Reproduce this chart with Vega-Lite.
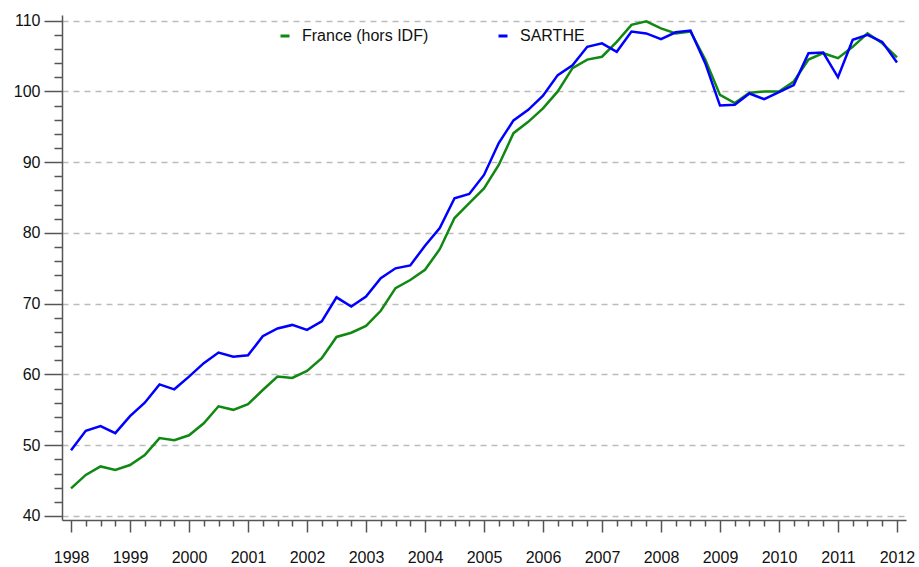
{
  "$schema": "https://vega.github.io/schema/vega-lite/v6.json",
  "width": 844,
  "height": 505,
  "autosize": "none",
  "padding": {"left": 62, "top": 15, "right": 13, "bottom": 47},
  "background": "white",
  "config": {"view": {"stroke": null}, "font": "Liberation Sans"},
  "data": {"values": [
    {"t":1998,"serie":"France (hors IDF)","v":43.9},{"t":1998.25,"serie":"France (hors IDF)","v":45.8},{"t":1998.5,"serie":"France (hors IDF)","v":47.0},{"t":1998.75,"serie":"France (hors IDF)","v":46.5},
    {"t":1999,"serie":"France (hors IDF)","v":47.2},{"t":1999.25,"serie":"France (hors IDF)","v":48.6},{"t":1999.5,"serie":"France (hors IDF)","v":51.0},{"t":1999.75,"serie":"France (hors IDF)","v":50.7},
    {"t":2000,"serie":"France (hors IDF)","v":51.4},{"t":2000.25,"serie":"France (hors IDF)","v":53.1},{"t":2000.5,"serie":"France (hors IDF)","v":55.5},{"t":2000.75,"serie":"France (hors IDF)","v":55.0},
    {"t":2001,"serie":"France (hors IDF)","v":55.8},{"t":2001.25,"serie":"France (hors IDF)","v":57.8},{"t":2001.5,"serie":"France (hors IDF)","v":59.7},{"t":2001.75,"serie":"France (hors IDF)","v":59.5},
    {"t":2002,"serie":"France (hors IDF)","v":60.5},{"t":2002.25,"serie":"France (hors IDF)","v":62.3},{"t":2002.5,"serie":"France (hors IDF)","v":65.3},{"t":2002.75,"serie":"France (hors IDF)","v":65.9},
    {"t":2003,"serie":"France (hors IDF)","v":66.85},{"t":2003.25,"serie":"France (hors IDF)","v":69.0},{"t":2003.5,"serie":"France (hors IDF)","v":72.2},{"t":2003.75,"serie":"France (hors IDF)","v":73.35},
    {"t":2004,"serie":"France (hors IDF)","v":74.8},{"t":2004.25,"serie":"France (hors IDF)","v":77.7},{"t":2004.5,"serie":"France (hors IDF)","v":82.1},{"t":2004.75,"serie":"France (hors IDF)","v":84.2},
    {"t":2005,"serie":"France (hors IDF)","v":86.3},{"t":2005.25,"serie":"France (hors IDF)","v":89.6},{"t":2005.5,"serie":"France (hors IDF)","v":94.1},{"t":2005.75,"serie":"France (hors IDF)","v":95.7},
    {"t":2006,"serie":"France (hors IDF)","v":97.6},{"t":2006.25,"serie":"France (hors IDF)","v":100.0},{"t":2006.5,"serie":"France (hors IDF)","v":103.3},{"t":2006.75,"serie":"France (hors IDF)","v":104.5},
    {"t":2007,"serie":"France (hors IDF)","v":104.9},{"t":2007.25,"serie":"France (hors IDF)","v":107.0},{"t":2007.5,"serie":"France (hors IDF)","v":109.4},{"t":2007.75,"serie":"France (hors IDF)","v":109.9},
    {"t":2008,"serie":"France (hors IDF)","v":108.9},{"t":2008.25,"serie":"France (hors IDF)","v":108.2},{"t":2008.5,"serie":"France (hors IDF)","v":108.45},{"t":2008.75,"serie":"France (hors IDF)","v":104.5},
    {"t":2009,"serie":"France (hors IDF)","v":99.5},{"t":2009.25,"serie":"France (hors IDF)","v":98.35},{"t":2009.5,"serie":"France (hors IDF)","v":99.8},{"t":2009.75,"serie":"France (hors IDF)","v":100.0},
    {"t":2010,"serie":"France (hors IDF)","v":100.0},{"t":2010.25,"serie":"France (hors IDF)","v":101.4},{"t":2010.5,"serie":"France (hors IDF)","v":104.5},{"t":2010.75,"serie":"France (hors IDF)","v":105.4},
    {"t":2011,"serie":"France (hors IDF)","v":104.7},{"t":2011.25,"serie":"France (hors IDF)","v":106.3},{"t":2011.5,"serie":"France (hors IDF)","v":108.2},{"t":2011.75,"serie":"France (hors IDF)","v":106.8},
    {"t":2012,"serie":"France (hors IDF)","v":104.8},
    {"t":1998,"serie":"SARTHE","v":49.3},{"t":1998.25,"serie":"SARTHE","v":52.05},{"t":1998.5,"serie":"SARTHE","v":52.7},{"t":1998.75,"serie":"SARTHE","v":51.7},
    {"t":1999,"serie":"SARTHE","v":54.1},{"t":1999.25,"serie":"SARTHE","v":56.0},{"t":1999.5,"serie":"SARTHE","v":58.6},{"t":1999.75,"serie":"SARTHE","v":57.9},
    {"t":2000,"serie":"SARTHE","v":59.7},{"t":2000.25,"serie":"SARTHE","v":61.6},{"t":2000.5,"serie":"SARTHE","v":63.1},{"t":2000.75,"serie":"SARTHE","v":62.5},
    {"t":2001,"serie":"SARTHE","v":62.7},{"t":2001.25,"serie":"SARTHE","v":65.4},{"t":2001.5,"serie":"SARTHE","v":66.5},{"t":2001.75,"serie":"SARTHE","v":67.0},
    {"t":2002,"serie":"SARTHE","v":66.3},{"t":2002.25,"serie":"SARTHE","v":67.5},{"t":2002.5,"serie":"SARTHE","v":70.9},{"t":2002.75,"serie":"SARTHE","v":69.6},
    {"t":2003,"serie":"SARTHE","v":71.0},{"t":2003.25,"serie":"SARTHE","v":73.6},{"t":2003.5,"serie":"SARTHE","v":75.0},{"t":2003.75,"serie":"SARTHE","v":75.4},
    {"t":2004,"serie":"SARTHE","v":78.2},{"t":2004.25,"serie":"SARTHE","v":80.7},{"t":2004.5,"serie":"SARTHE","v":84.9},{"t":2004.75,"serie":"SARTHE","v":85.5},
    {"t":2005,"serie":"SARTHE","v":88.2},{"t":2005.25,"serie":"SARTHE","v":92.7},{"t":2005.5,"serie":"SARTHE","v":95.9},{"t":2005.75,"serie":"SARTHE","v":97.4},
    {"t":2006,"serie":"SARTHE","v":99.4},{"t":2006.25,"serie":"SARTHE","v":102.3},{"t":2006.5,"serie":"SARTHE","v":103.7},{"t":2006.75,"serie":"SARTHE","v":106.3},
    {"t":2007,"serie":"SARTHE","v":106.8},{"t":2007.25,"serie":"SARTHE","v":105.6},{"t":2007.5,"serie":"SARTHE","v":108.45},{"t":2007.75,"serie":"SARTHE","v":108.2},
    {"t":2008,"serie":"SARTHE","v":107.4},{"t":2008.25,"serie":"SARTHE","v":108.35},{"t":2008.5,"serie":"SARTHE","v":108.6},{"t":2008.75,"serie":"SARTHE","v":104.0},
    {"t":2009,"serie":"SARTHE","v":98.0},{"t":2009.25,"serie":"SARTHE","v":98.1},{"t":2009.5,"serie":"SARTHE","v":99.7},{"t":2009.75,"serie":"SARTHE","v":98.9},
    {"t":2010,"serie":"SARTHE","v":99.9},{"t":2010.25,"serie":"SARTHE","v":100.9},{"t":2010.5,"serie":"SARTHE","v":105.4},{"t":2010.75,"serie":"SARTHE","v":105.5},
    {"t":2011,"serie":"SARTHE","v":102.0},{"t":2011.25,"serie":"SARTHE","v":107.3},{"t":2011.5,"serie":"SARTHE","v":108.0},{"t":2011.75,"serie":"SARTHE","v":107.0},
    {"t":2012,"serie":"SARTHE","v":104.1}
  ]},
  "mark": {"type": "line", "strokeWidth": 2.5},
  "encoding": {
    "x": {
      "field": "t", "type": "quantitative",
      "scale": {"domain": [1997.847, 2012.153], "nice": false, "zero": false},
      "axis": {
        "title": null,
        "values": [1998,1998.25,1998.5,1998.75,1999,1999.25,1999.5,1999.75,2000,2000.25,2000.5,2000.75,2001,2001.25,2001.5,2001.75,2002,2002.25,2002.5,2002.75,2003,2003.25,2003.5,2003.75,2004,2004.25,2004.5,2004.75,2005,2005.25,2005.5,2005.75,2006,2006.25,2006.5,2006.75,2007,2007.25,2007.5,2007.75,2008,2008.25,2008.5,2008.75,2009,2009.25,2009.5,2009.75,2010,2010.25,2010.5,2010.75,2011,2011.25,2011.5,2011.75,2012],
        "labelExpr": "datum.value % 1 === 0 ? datum.value : ''",
        "tickSize": {"condition": {"test": "datum.value % 1 === 0", "value": 12}, "value": 6},
        "grid": false,
        "domainColor": "#555555", "domainWidth": 1.5,
        "tickColor": "#555555", "tickWidth": 1.5,
        "labelFontSize": 16, "labelColor": "#111111", "labelPadding": 17,
        "labelOverlap": false, "labelFlush": false
      }
    },
    "y": {
      "field": "v", "type": "quantitative",
      "scale": {"domain": [39.43, 110.8], "nice": false, "zero": false},
      "axis": {
        "title": null,
        "values": [40,42,44,46,48,50,52,54,56,58,60,62,64,66,68,70,72,74,76,78,80,82,84,86,88,90,92,94,96,98,100,102,104,106,108,110],
        "labelExpr": "datum.value % 10 === 0 ? datum.value : ''",
        "tickSize": {"condition": {"test": "datum.value % 10 === 0", "value": 18}, "value": 8},
        "grid": true,
        "gridOpacity": {"condition": {"test": "datum.value % 10 === 0", "value": 1}, "value": 0},
        "gridDash": [6, 5], "gridColor": "#bbbbbb", "gridWidth": 1.5,
        "domainColor": "#555555", "domainWidth": 1.5,
        "tickColor": "#555555", "tickWidth": 1.5,
        "labelFontSize": 16, "labelColor": "#111111", "labelPadding": 4,
        "labelOverlap": false, "labelFlush": false
      }
    },
    "color": {
      "field": "serie", "type": "nominal",
      "scale": {"domain": ["France (hors IDF)", "SARTHE"], "range": ["#118811", "#0000ff"]},
      "legend": {
        "title": null, "orient": "none", "legendX": 215, "legendY": 13,
        "direction": "horizontal", "symbolType": "stroke", "symbolSize": 81,
        "symbolStrokeWidth": 3, "labelFontSize": 16, "labelColor": "#111111",
        "labelOffset": 9, "columnPadding": 63, "padding": 0
      }
    }
  }
}
